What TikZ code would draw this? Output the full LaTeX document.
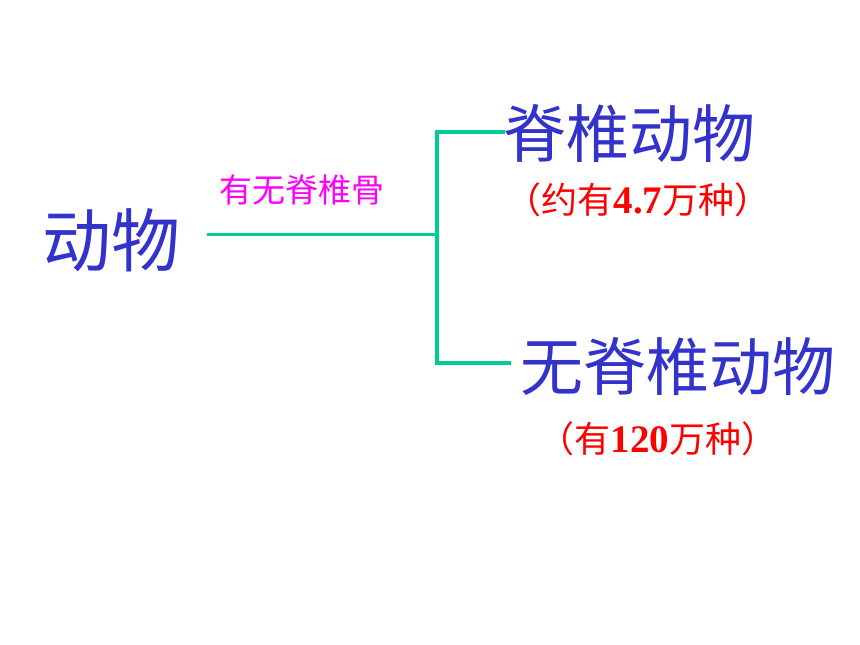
\documentclass[tikz,border=0pt]{standalone}
\usepackage{fontspec}
\newfontfamily\cjk{Noto Sans CJK SC}
\newfontfamily\numf{Liberation Serif}
\definecolor{tblue}{HTML}{3333CC}
\definecolor{tgreen}{HTML}{00CC99}
\definecolor{tmag}{HTML}{FF00FF}
\definecolor{tred}{HTML}{FF0000}
\tikzset{
  bigtxt/.style={inner sep=0pt, text=tblue, font=\cjk\fontsize{63}{63}\selectfont},
  redtxt/.style={inner sep=0pt, text=tred, font=\cjk\fontsize{36}{36}\selectfont},
  lbl/.style={inner sep=0pt, text=tmag, font=\cjk\fontsize{33}{33}\selectfont},
  conn/.style={draw=tgreen, line width=3.5pt},
}
\newcommand{\numtxt}[1]{{\numf\bfseries\fontsize{39}{39}\selectfont #1}}
\begin{document}
\begin{tikzpicture}[x=1pt,y=-1pt]
\useasboundingbox (0,0) rectangle (860,645);
\node[bigtxt, font=\cjk\fontsize{69}{69}\selectfont] (animal) at (111,240) {动物};
\node[lbl] (question) at (302,190) {有无脊椎骨};
\node[bigtxt] (vert) at (629,134) {脊椎动物};
\node[redtxt] (vertn) at (638,200) {（约有\numtxt{4.7}万种）};
\node[bigtxt] (invert) at (678,367) {无脊椎动物};
\node[redtxt] (invertn) at (658,439) {（有\numtxt{120}万种）};
\coordinate (s) at (207,234);
\coordinate (j) at (437,234);
\coordinate (jt) at (437,132);
\coordinate (jb) at (437,363);
\coordinate (te) at (505,132);
\coordinate (be) at (511,363);
\draw[conn, line width=3pt] (s) -- (j);
\draw[conn] (te) -- (jt) -- (jb) -- (be);
\end{tikzpicture}
\end{document}
